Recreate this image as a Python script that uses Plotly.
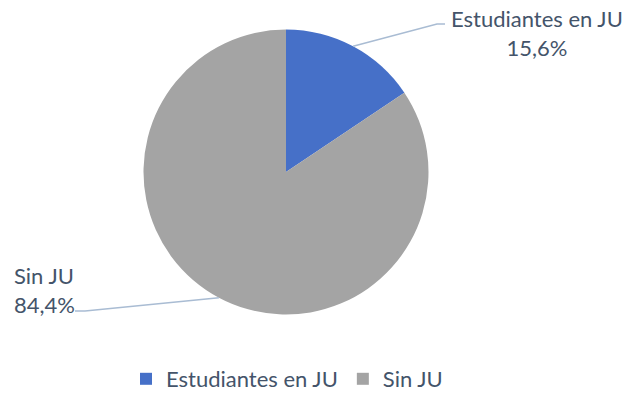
import math
import plotly.graph_objects as go

labels = ["Estudiantes en JU", "Sin JU"]
values = [15.6, 84.4]
value_text = ["15,6%", "84,4%"]
colors = ["#4670C8", "#A4A4A4"]

W, H = 623, 400
# pie placement in pixels
cx, cy, r = 286, 172, 142.5
font = "Lato"
text_color = "#44546A"
line_color = "#A9BCD3"


def px(x):
    return x / W


def py(y):
    return 1 - y / H


fig = go.Figure()
fig.add_trace(go.Pie(
    labels=labels, values=values, sort=False, direction="clockwise", rotation=0,
    marker=dict(colors=colors, line=dict(width=0)),
    textinfo="none", hoverinfo="label+percent",
    domain=dict(x=[px(cx - r), px(cx + r)], y=[py(cy + r), py(cy - r)]),
))

# leader lines from slice mid-angles to the labels
label_pos = [
    dict(elbow=(437, 24), end=(445, 24), text_x=537, text_y=33, anchor="center"),
    dict(elbow=(85, 311), end=(75, 311), text_x=12, text_y=290, anchor="left"),
]
total = sum(values)
start = 0
for i, v in enumerate(values):
    mid = (start + v / 2) / total * 2 * math.pi
    start += v
    ex = cx + r * math.sin(mid)
    ey = cy - r * math.cos(mid)
    lp = label_pos[i]
    fig.add_shape(type="path", xref="paper", yref="paper",
                  path="M {} {} L {} {} L {} {}".format(
                      px(ex), py(ey), px(lp["elbow"][0]), py(lp["elbow"][1]),
                      px(lp["end"][0]), py(lp["end"][1])),
                  line=dict(color=line_color, width=1.5))
    fig.add_annotation(x=px(lp["text_x"]), y=py(lp["text_y"]), xref="paper", yref="paper",
                       text=labels[i] + "<br>" + value_text[i], showarrow=False,
                       xanchor=lp["anchor"], yanchor="middle", align=lp["anchor"],
                       font=dict(family=font, size=22, color=text_color))

fig.update_layout(
    width=W, height=H, margin=dict(l=0, r=0, t=0, b=0, autoexpand=False),
    paper_bgcolor="white", plot_bgcolor="white",
    showlegend=True,
    legend=dict(orientation="h", x=px(126), xanchor="left", y=py(400), yanchor="bottom",
                itemwidth=30, bgcolor="rgba(0,0,0,0)",
                font=dict(family=font, size=22, color=text_color),
                itemsizing="constant"),
)
fig.write_html("out.html", post_script="document.body.style.margin='0';",
               config={"displayModeBar": False})
